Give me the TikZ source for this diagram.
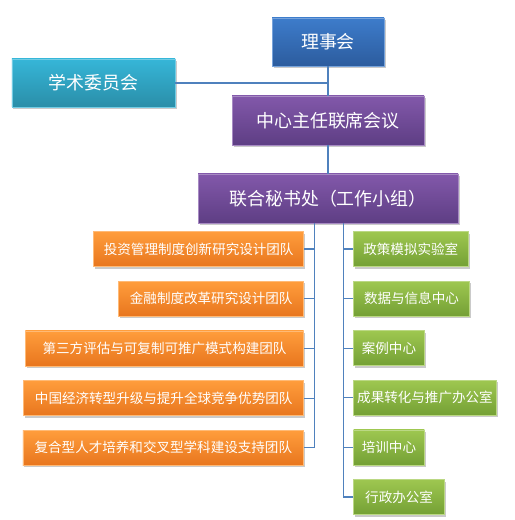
\documentclass[tikz,border=0pt]{standalone}
\usepackage{fontspec}
\newfontfamily\cjk{Noto Sans CJK SC}
\usetikzlibrary{shadows}
\definecolor{bluetop}{HTML}{3D7CCB}\definecolor{bluebot}{HTML}{2C5C9E}
\definecolor{tealtop}{HTML}{36B6D8}\definecolor{tealbot}{HTML}{2A8EA8}
\definecolor{purtop}{HTML}{8258AA}\definecolor{purbot}{HTML}{5E3E84}
\definecolor{ortop}{HTML}{FF9D3C}\definecolor{orbot}{HTML}{E8761E}
\definecolor{grtop}{HTML}{9EC750}\definecolor{grbot}{HTML}{74A035}
\definecolor{linec}{HTML}{4F81BD}
\tikzset{
  box/.style={inner sep=0pt, text=white, align=center,
    drop shadow={shadow xshift=1.5bp, shadow yshift=-2bp, opacity=0.35, fill=black!60}},
  bigbox/.style={box, minimum height=48bp, font=\cjk\fontsize{18}{20}\selectfont},
  smallbox/.style={box, minimum height=35bp, font=\cjk\fontsize{13.6}{15}\selectfont},
  bluebox/.style={bigbox, top color=bluetop, bottom color=bluebot, draw=bluetop!70!white, line width=0.6bp},
  tealbox/.style={bigbox, top color=tealtop, bottom color=tealbot, draw=tealtop!70!white, line width=0.6bp},
  purbox/.style={bigbox, top color=purtop, bottom color=purbot, draw=purtop!70!white, line width=0.6bp},
  orbox/.style={smallbox, top color=ortop, bottom color=orbot, draw=ortop!70!white, line width=0.6bp, anchor=east},
  grbox/.style={smallbox, top color=grtop, bottom color=grbot, draw=grtop!70!white, line width=0.6bp, anchor=west},
  conn/.style={draw=linec, line width=1.2bp}
}
\begin{document}
\begin{tikzpicture}[x=1bp, y=-1bp]
\useasboundingbox (0,0) rectangle (515,520);
\node[bluebox, minimum width=112bp] (ls) at (328,42) {理事会};
\node[tealbox, minimum width=163bp] (xs) at (93.5,83) {学术委员会};
\node[purbox, minimum width=192bp, minimum height=49bp] (zx) at (328,120.5) {中心主任联席会议};
\node[purbox, minimum width=260bp, minimum height=49bp] (ms) at (328,198.5) {联合秘书处（工作小组）};

\node[orbox, minimum width=210bp] (o1) at (304,249) {投资管理制度创新研究设计团队};
\node[orbox, minimum width=185bp] (o2) at (304,298.7) {金融制度改革研究设计团队};
\node[orbox, minimum width=278.3bp] (o3) at (304,348.4) {第三方评估与可复制可推广模式构建团队};
\node[orbox, minimum width=280bp] (o4) at (304,398.1) {中国经济转型升级与提升全球竞争优势团队};
\node[orbox, minimum width=280.7bp] (o5) at (304,447.8) {复合型人才培养和交叉型学科建设支持团队};

\node[grbox, minimum width=114.4bp] (g1) at (353.3,249) {政策模拟实验室};
\node[grbox, minimum width=115.7bp] (g2) at (353.3,298.6) {数据与信息中心};
\node[grbox, minimum width=70.7bp] (g3) at (353.3,348.2) {案例中心};
\node[grbox, minimum width=142.7bp] (g4) at (353.3,397.8) {成果转化与推广办公室};
\node[grbox, minimum width=70.7bp] (g5) at (353.3,447.4) {培训中心};
\node[grbox, minimum width=91bp] (g6) at (353.3,497) {行政办公室};

\coordinate (lt) at (314.3,223);
\coordinate (rt) at (343.3,223);

\draw[conn] (ls.south) -- (zx.north);
\draw[conn] (xs.east) -- (ls.south |- xs.east);
\draw[conn] (zx.south) -- (ms.north);
\foreach \n in {o1,o2,o3,o4,o5} \draw[conn] (\n.east) -| (lt);
\foreach \n in {g1,g2,g3,g4,g5,g6} \draw[conn] (\n.west) -| (rt);
\end{tikzpicture}
\end{document}
